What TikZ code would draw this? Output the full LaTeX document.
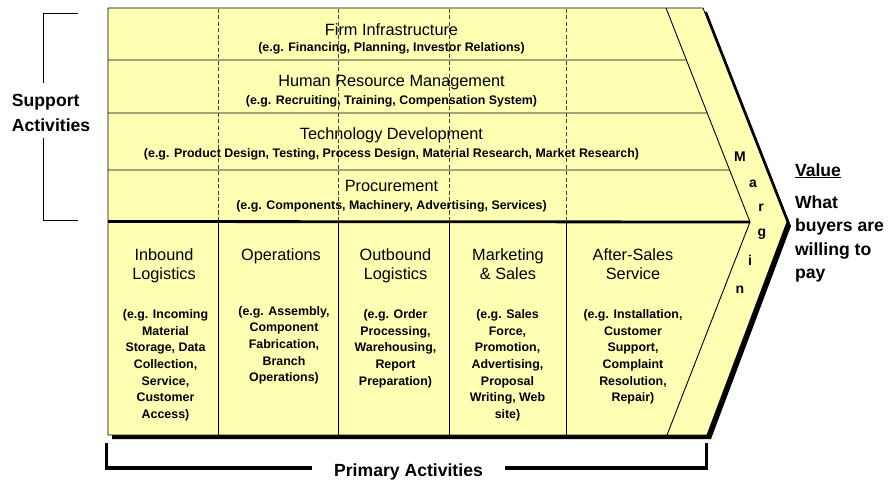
\documentclass[tikz,border=0pt]{standalone}
\usepackage{fontspec}
\setmainfont{Liberation Sans}
\usetikzlibrary{calc}
\definecolor{chainfill}{RGB}{255,255,180}
\begin{document}
\begin{tikzpicture}[x=1pt,y=-1pt,
  every node/.style={inner sep=0pt, outer sep=0pt, text=black},
  rowtitle/.style={anchor=base, font=\fontsize{16.3}{19.3}\selectfont},
  rowsub/.style={anchor=base, font=\bfseries\fontsize{12.4}{14}\selectfont},
  % multi-line nodes are placed by the baseline of their last line
  coltitle/.style={anchor=base, align=center, font=\fontsize{16.3}{19.3}\selectfont},
  colsub/.style={anchor=base, align=center, font=\bfseries\fontsize{12.4}{16.7}\selectfont},
  marginletter/.style={anchor=base, font=\bfseries\fontsize{14}{16}\selectfont},
  sidelabel/.style={anchor=base west, align=left, font=\bfseries\fontsize{17.6}{23.5}\selectfont},
  rule/.style={line width=0.9pt, draw=black},
  divider/.style={line width=0.8pt, draw=black!75, dash pattern=on 4pt off 2.5pt},
  bracket/.style={line width=1pt, draw=black},
  heavybracket/.style={line width=3.5pt, draw=black}]
\useasboundingbox (0,0) rectangle (888,481);

% outline of the value chain arrow
\coordinate (tl) at (108,8);
\coordinate (bl) at (108,435);
\coordinate (ot) at (703,8);
\coordinate (op) at (787,222);
\coordinate (ob) at (707,435);
\coordinate (it) at (666,8);
\coordinate (ip) at (750,222);
\coordinate (ib) at (667,435);

% drop shadow
\fill[black] ([shift={(4,4)}]tl) -- ([shift={(4,4)}]ot) -- ([shift={(4,4)}]op)
  -- ([shift={(4,4)}]ob) -- ([shift={(4,4)}]bl) -- cycle;
% body
\filldraw[fill=chainfill, rule] (tl) -- (ot) -- (op) -- (ob) -- (bl) -- cycle;
% margin band
\draw[rule] (it) -- (ip) -- (ib);

% support activity rows
\draw[rule] (108,60) -- ($(it)!0.243!(ip)$);
\draw[rule] (108,113) -- ($(it)!0.4907!(ip)$);
\draw[rule] (108,170) -- ($(it)!0.757!(ip)$);

% primary activity columns and dashed continuations
\foreach \x in {218,338,449,566} {
  \draw[divider] (\x,9) -- (\x,220);
  \draw[rule] (\x,222) -- (\x,435);
}
% border between support and primary activities
\draw[line width=2.8pt] (108,221.5) -- (ip);

% support activities
\node[rowtitle] (fi) at (391.5,35.7) {Firm Infrastructure};
\node[rowsub] (fisub) at (391.5,51.7) {(e.g. Financing, Planning, Investor Relations)};
\node[rowtitle] (hr) at (391.5,86.7) {Human Resource Management};
\node[rowsub] (hrsub) at (391.5,104.3) {(e.g. Recruiting, Training, Compensation System)};
\node[rowtitle] (td) at (391.5,139.3) {Technology Development};
\node[rowsub] (tdsub) at (391.5,157.3) {(e.g. Product Design, Testing, Process Design, Material Research, Market Research)};
\node[rowtitle] (pr) at (391.5,191.7) {Procurement};
\node[rowsub] (prsub) at (391.5,209) {(e.g. Components, Machinery, Advertising, Services)};

% primary activities
\node[coltitle] (inb) at (164,279.3) {Inbound\\Logistics};
\node[colsub] (inbsub) at (165.5,418.5) {(e.g. Incoming\\Material\\Storage, Data\\Collection,\\Service,\\Customer\\Access)};
\node[coltitle] (ops) at (281,260) {Operations};
\node[colsub] (opssub) at (284,381.8) {(e.g. Assembly,\\Component\\Fabrication,\\Branch\\Operations)};
\node[coltitle] (outb) at (395.5,279.3) {Outbound\\Logistics};
\node[colsub] (outbsub) at (395.5,385.3) {(e.g. Order\\Processing,\\Warehousing,\\Report\\Preparation)};
\node[coltitle] (mks) at (508,279.3) {Marketing\\\& Sales};
\node[colsub] (mkssub) at (507.5,418.5) {(e.g. Sales\\Force,\\Promotion,\\Advertising,\\Proposal\\Writing, Web\\site)};
\node[coltitle] (ass) at (633,279.3) {After-Sales\\Service};
\node[colsub] (asssub) at (633,401.8) {(e.g. Installation,\\Customer\\Support,\\Complaint\\Resolution,\\Repair)};

% margin lettering
\node[marginletter] (mM) at (740,161.7) {M};
\node[marginletter] (ma) at (753,187.3) {a};
\node[marginletter] (mr) at (761,211.7) {r};
\node[marginletter] (mg) at (762,236) {g};
\node[marginletter] (mi) at (750,265) {i};
\node[marginletter] (mn) at (740,293.3) {n};

% value annotation
\node[sidelabel] (value) at (795,176) {\underline{Value}};
\node[sidelabel] (pay) at (795,278.8) {What\\buyers are\\willing to\\pay};

% support bracket
\node[sidelabel, font=\bfseries\fontsize{17.6}{25}\selectfont] (support) at (12,131.7) {Support\\Activities};
\draw[bracket] (78,14) -- (43.3,14) -- (43.3,83);
\draw[bracket] (43.3,138) -- (43.3,220) -- (78,220);

% primary bracket
\node[anchor=base, font=\bfseries\fontsize{17.6}{20}\selectfont] (primary) at (408.5,476) {Primary Activities};
\draw[heavybracket] (311.7,468) -- (106.7,468) -- (106.7,443);
\draw[heavybracket] (505,468) -- (706.7,468) -- (706.7,443);
\end{tikzpicture}
\end{document}
